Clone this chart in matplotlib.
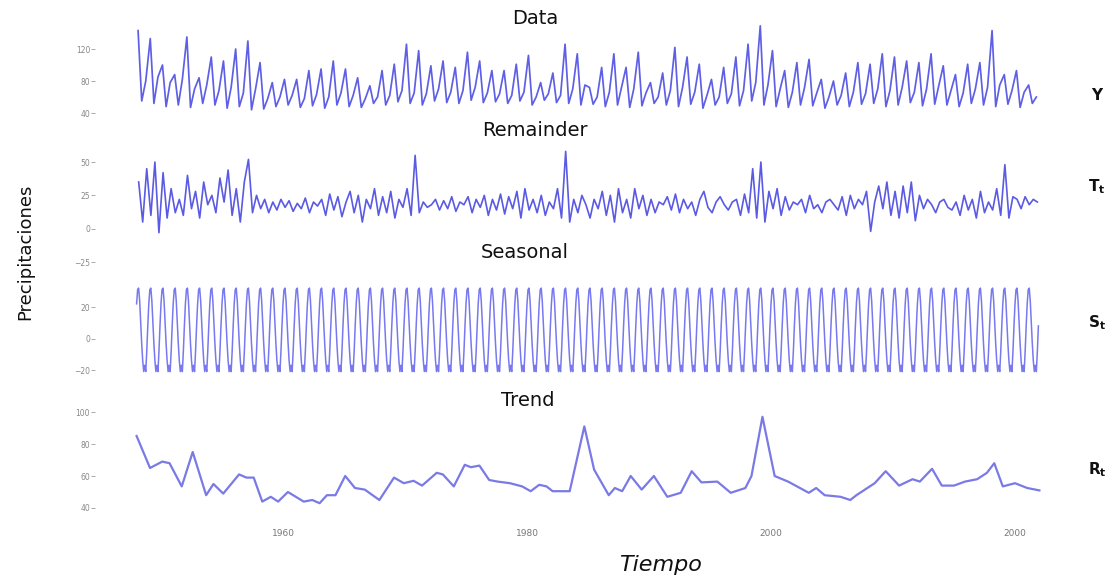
import numpy as np
import matplotlib
matplotlib.use('Agg')
import matplotlib.pyplot as plt

# --- values ---
start_year = 1948

# Data (Y): one peak, one trough and one shoulder per year, 1948-2021
data_peak = [143, 133, 100, 88, 135, 84, 110, 105, 120, 130,
             103, 78, 82, 82, 93, 95, 105, 95, 84, 74,
             93, 101, 126, 118, 99, 105, 97, 116, 105, 93,
             93, 101, 112, 78, 90, 126, 114, 72, 97, 114,
             97, 116, 78, 90, 122, 110, 101, 82, 97, 110,
             126, 149, 118, 93, 103, 107, 82, 80, 90, 103,
             101, 114, 110, 105, 103, 114, 99, 88, 101, 103,
             143, 88, 93, 75]
data_low = [55, 52, 48, 50, 47, 52, 50, 46, 48, 44,
            45, 48, 50, 47, 49, 46, 50, 48, 47, 52,
            50, 54, 52, 50, 55, 53, 52, 56, 53, 54,
            52, 55, 50, 56, 53, 52, 50, 51, 48, 50,
            47, 49, 52, 50, 48, 51, 46, 50, 52, 49,
            55, 50, 48, 47, 50, 49, 46, 50, 48, 51,
            52, 48, 50, 53, 49, 51, 50, 48, 52, 50,
            48, 51, 47, 52]
data_mid = [80, 85, 78, 82, 70, 75, 68, 72, 65, 70,
            58, 60, 62, 58, 63, 60, 65, 62, 58, 60,
            62, 68, 65, 64, 70, 66, 68, 72, 65, 64,
            62, 66, 60, 64, 62, 70, 75, 60, 66, 72,
            70, 65, 60, 68, 72, 66, 62, 60, 64, 68,
            78, 75, 70, 66, 72, 65, 60, 62, 66, 64,
            70, 68, 72, 66, 70, 74, 68, 65, 70, 72,
            75, 68, 66, 60]

# Remainder: three readings per year
remainder = [35, 5, 45,   10, 50, -3,   42, 8, 30,   12, 22, 10,   40, 15, 28,
             8, 35, 18,   25, 12, 38,   20, 44, 10,   30, 5, 35,   52, 12, 25,
             15, 22, 12,  20, 14, 22,   16, 21, 13,   19, 15, 23,   12, 20, 17,
             22, 10, 26,  14, 24, 9,    20, 28, 12,   25, 5, 22,    15, 30, 10,
             24, 12, 28,  8, 22, 16,    30, 10, 55,   12, 20, 16,   18, 22, 14,
             21, 15, 24,  13, 20, 18,   24, 12, 22,   16, 25, 10,   22, 14, 26,
             11, 24, 15,  28, 8, 30,    14, 22, 12,   25, 10, 20,   15, 30, 8,
             58, 5, 22,   12, 25, 18,   8, 22, 15,    28, 10, 25,   5, 30, 12,
             22, 8, 30,   15, 25, 10,   22, 12, 20,   18, 24, 14,   26, 12, 22,
             15, 20, 10,  22, 28, 16,   12, 20, 24,   18, 14, 20,   22, 10, 26,
             12, 45, 8,   50, 5, 28,    15, 30, 10,   24, 14, 20,   18, 22, 12,
             25, 15, 18,  12, 20, 22,   18, 14, 24,   10, 25, 15,   22, 18, 28,
             -2, 20, 32,  15, 35, 10,   28, 8, 32,    12, 35, 6,    25, 15, 22,
             18, 12, 20,  22, 16, 14,   20, 10, 25,   14, 22, 8,    28, 12, 20,
             14, 30, 10,  48, 8, 24,    22, 15, 24,   18, 22, 20]

# Seasonal: monthly pattern (repeats every year)
seasonal_month = [22, 31, 32, 24, 10, -3, -14, -21, -17, -21, -8, 8]

# Trend
trend_t = [1948.0, 1949.1, 1950.1, 1950.7, 1951.7, 1952.6, 1953.7, 1954.3, 1955.1, 1956.4,
           1957.0, 1957.6, 1958.3, 1959.0, 1959.6, 1960.4, 1961.7, 1962.4, 1963.0, 1963.6,
           1964.3, 1965.1, 1965.9, 1966.7, 1967.9, 1969.1, 1969.9, 1970.7, 1971.4, 1972.6,
           1973.1, 1974.0, 1974.9, 1975.4, 1976.1, 1976.9, 1977.6, 1978.6, 1979.6, 1980.3,
           1981.0, 1981.6, 1982.1, 1983.5, 1984.7, 1985.5, 1986.7, 1987.2, 1987.8, 1988.5,
           1989.4, 1990.4, 1991.5, 1992.6, 1993.5, 1994.3, 1995.6, 1996.7, 1997.9, 1998.4,
           1999.3, 2000.3, 2001.4, 2003.1, 2003.7, 2004.4, 2005.7, 2006.5, 2007.0, 2007.7,
           2008.5, 2009.4, 2010.5, 2011.6, 2012.2, 2013.2, 2014.0, 2015.0, 2015.9, 2016.9,
           2017.7, 2018.3, 2019.0, 2020.0, 2021.0, 2022.0]
trend_v = [85, 65, 69, 68, 53.5, 75, 48, 55, 49, 61,
           59, 59, 44, 47, 44, 50, 44, 45, 43, 48,
           48, 60, 52.5, 51.5, 45, 59, 55.5, 57, 54, 62,
           61, 53.5, 67, 65.5, 66.5, 57.5, 56.5, 55.5, 53.5, 50.5,
           54.5, 53.5, 50.5, 50.5, 91, 64, 48, 52.5, 50.5, 60,
           51.5, 60, 47, 49.5, 63, 56, 56.5, 49.5, 52.5, 60,
           97, 60, 56.5, 49.5, 52.5, 48, 47, 45, 48, 51.5,
           55.5, 63, 54, 58, 56.5, 64.5, 54, 54, 56.5, 58,
           62, 68, 53.5, 55.5, 52.5, 51]

xtick_pos = [1960, 1980, 2000, 2020]
xtick_lab = ['1960', '1980', '2000', '2000']

# --- build series ---
years = start_year + np.arange(len(data_peak))
data_t = np.column_stack([years + 0.12, years + 0.42, years + 0.75]).ravel()
data_y = np.column_stack([data_peak, data_low, data_mid]).ravel()

rem_t = np.column_stack([years + 0.17, years + 0.5, years + 0.83]).ravel()
rem_y = np.array(remainder)

seas_y = np.tile(seasonal_month, len(years))
seas_t = start_year + np.arange(len(seas_y)) / 12

# --- figure ---
W, H = 1115, 579
fig = plt.figure(figsize=(W / 100, H / 100), dpi=100)

x0, x1 = 95, 1055
xlim = (1960 - (283 - x0) / 12.2, 1960 + (x1 - 283) / 12.2)


def panel(top, bottom, ylim, yticks):
    ax = fig.add_axes([x0 / W, 1 - bottom / H, (x1 - x0) / W, (bottom - top) / H])
    ax.set_xlim(xlim)
    ax.set_ylim(ylim)
    for s in ax.spines.values():
        s.set_visible(False)
    ax.set_yticks(yticks)
    ax.tick_params(axis='y', length=3, width=0.7, color='#aaaaaa',
                   labelsize=5.5, labelcolor='#888888', pad=0.5)
    ax.set_xticks([])
    return ax


ax1 = panel(23.4, 117.0, (35, 152), [40, 80, 120])
ax1.plot(data_t, data_y, color='#4343e2', lw=1.25, alpha=0.85)

ax2 = panel(148.7, 264.7, (-27, 60), [-25, 0, 25, 50])
ax2.plot(rem_t, rem_y, color='#3d3ddf', lw=1.2, alpha=0.85)

ax3 = panel(281.8, 377.9, (-25, 36), [-20, 0, 20])
ax3.plot(seas_t, seas_y, color='#7878f0', lw=1.1)

ax4 = panel(408.8, 512.8, (37, 102), [40, 60, 80, 100])
ax4.plot(trend_t, trend_v, color='#7a7ae6', lw=1.6)
ax4.set_xticks(xtick_pos)
ax4.set_xticklabels(xtick_lab)
ax4.tick_params(axis='x', length=0, labelsize=6.5, labelcolor='#777777', pad=12)

# titles and labels
for txt, x, y in [('Data', 535, 18), ('Remainder', 535, 130),
                  ('Seasonal', 525, 252), ('Trend', 528, 400)]:
    fig.text(x / W, 1 - y / H, txt, ha='center', va='center', fontsize=14, color='#111111')

for txt, y in [('Y', 96), (r'$\mathbf{T_t}$', 187), (r'$\mathbf{S_t}$', 323), (r'$\mathbf{R_t}$', 470)]:
    fig.text(1097 / W, 1 - y / H, txt, ha='center', va='center', fontsize=11,
             fontweight='bold', color='#111111')

fig.text(25 / W, 1 - 252 / H, 'Precipitaciones', rotation=90, ha='center', va='center',
         fontsize=13, color='#111111')
fig.text(660 / W, 1 - 565 / H, 'Tiempo', ha='center', va='center', fontsize=16,
         style='italic', color='#111111')

fig.savefig('out.png', dpi=100)
